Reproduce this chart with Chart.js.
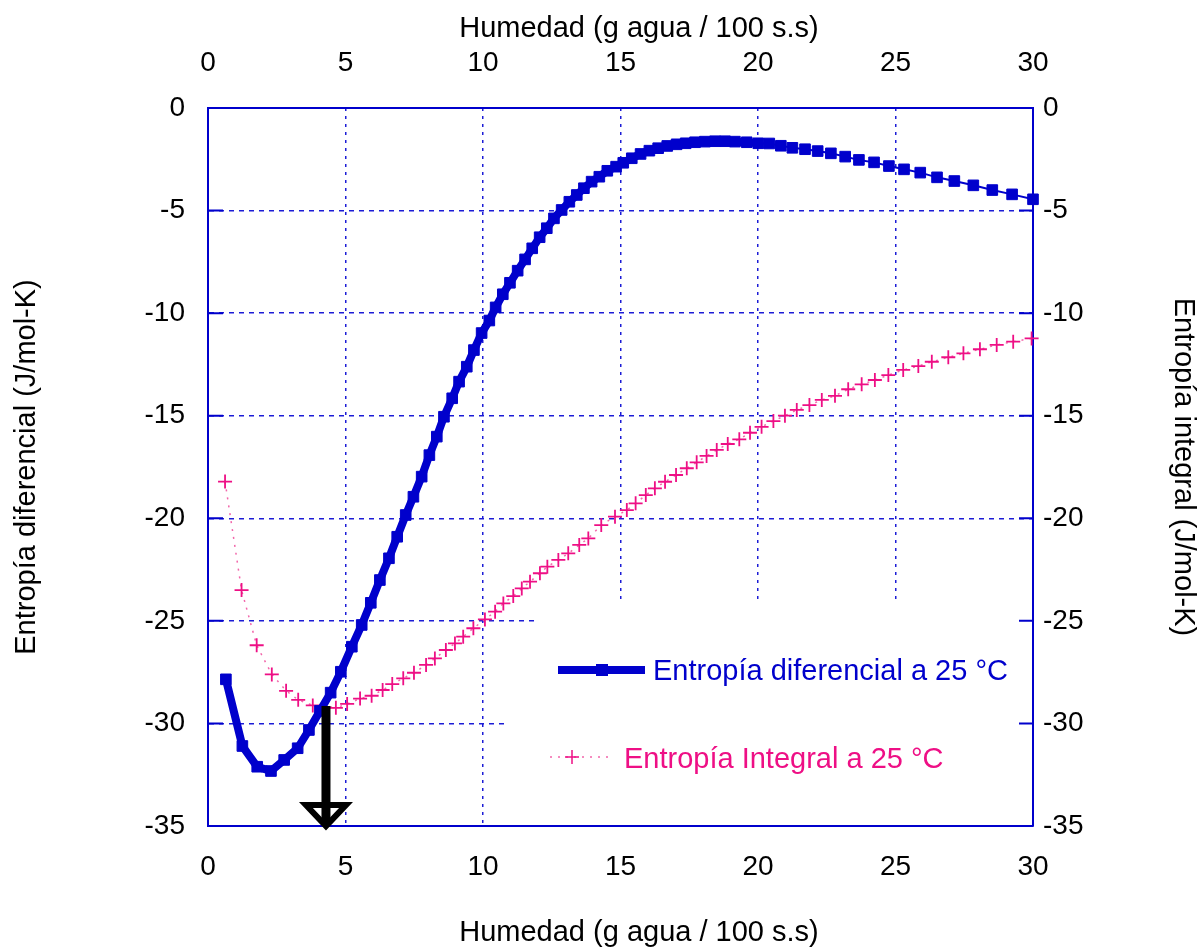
<!DOCTYPE html>
<html lang="es">
<head>
<meta charset="utf-8">
<title>Entropía diferencial e integral</title>
<script src="https://cdn.jsdelivr.net/npm/chart.js@4.4.1/dist/chart.umd.min.js"></script>
<style>
  html, body { margin: 0; padding: 0; background: #fff; }
  #contenedor { width: 1202px; height: 948px; position: relative; }
</style>
</head>
<body>
<div id="contenedor"><canvas id="grafico"></canvas></div>
<script>
// Entropía diferencial (eje izquierdo)
const diffHumedad = [0.65, 1.25, 1.79, 2.29, 2.77, 3.26, 3.67, 4.07, 4.46, 4.83, 5.23, 5.59, 5.92, 6.25, 6.58, 6.88, 7.19, 7.47, 7.77, 8.05, 8.32, 8.58, 8.88, 9.13, 9.41, 9.67, 9.95, 10.23, 10.46, 10.72, 10.98, 11.26, 11.53, 11.79, 12.06, 12.32, 12.58, 12.86, 13.14, 13.41, 13.67, 13.95, 14.23, 14.52, 14.84, 15.10, 15.41, 15.73, 16.05, 16.37, 16.70, 17.04, 17.37, 17.71, 18.07, 18.44, 18.80, 19.16, 19.59, 20.01, 20.41, 20.83, 21.25, 21.71, 22.17, 22.65, 23.17, 23.67, 24.22, 24.76, 25.31, 25.90, 26.51, 27.14, 27.83, 28.52, 29.24, 30.0];
const diffEntropia = [-27.85, -31.10, -32.11, -32.32, -31.78, -31.21, -30.32, -29.39, -28.50, -27.48, -26.26, -25.20, -24.12, -23.01, -21.95, -20.90, -19.84, -18.95, -17.97, -16.92, -16.02, -15.05, -14.15, -13.34, -12.61, -11.80, -10.97, -10.36, -9.72, -9.08, -8.52, -7.93, -7.38, -6.84, -6.30, -5.86, -5.38, -4.97, -4.57, -4.24, -3.91, -3.59, -3.35, -3.06, -2.86, -2.67, -2.45, -2.24, -2.08, -1.96, -1.85, -1.77, -1.72, -1.67, -1.64, -1.62, -1.62, -1.64, -1.67, -1.72, -1.73, -1.84, -1.94, -2.01, -2.10, -2.21, -2.37, -2.53, -2.65, -2.83, -2.99, -3.15, -3.38, -3.56, -3.77, -4.00, -4.21, -4.45];

// Entropía integral (eje derecho, misma escala)
const intHumedad = [0.62, 1.22, 1.77, 2.32, 2.84, 3.28, 3.81, 4.25, 4.65, 5.06, 5.53, 5.95, 6.35, 6.70, 7.10, 7.49, 7.93, 8.25, 8.65, 8.98, 9.28, 9.65, 10.07, 10.44, 10.74, 11.10, 11.41, 11.71, 12.07, 12.34, 12.74, 13.10, 13.50, 13.83, 14.30, 14.80, 15.23, 15.55, 15.92, 16.25, 16.62, 17.02, 17.41, 17.77, 18.13, 18.50, 18.90, 19.32, 19.71, 20.13, 20.56, 20.98, 21.41, 21.87, 22.32, 22.80, 23.28, 23.77, 24.25, 24.74, 25.28, 25.83, 26.32, 26.92, 27.47, 28.07, 28.68, 29.28, 29.95];
const intEntropia = [-18.21, -23.5, -26.19, -27.61, -28.41, -28.85, -29.12, -29.22, -29.24, -29.05, -28.79, -28.65, -28.37, -28.08, -27.80, -27.53, -27.15, -26.83, -26.42, -26.10, -25.77, -25.36, -24.93, -24.55, -24.15, -23.79, -23.42, -23.09, -22.68, -22.36, -22.03, -21.71, -21.30, -20.98, -20.33, -19.92, -19.60, -19.27, -18.87, -18.54, -18.22, -17.89, -17.56, -17.27, -16.96, -16.67, -16.38, -16.15, -15.83, -15.54, -15.26, -15.00, -14.72, -14.48, -14.23, -14.03, -13.71, -13.47, -13.26, -13.02, -12.77, -12.58, -12.37, -12.15, -11.96, -11.76, -11.55, -11.39, -11.23];

const ticksHumedad = [0, 5, 10, 15, 20, 25, 30];
const ticksEntropia = [0, -5, -10, -15, -20, -25, -30, -35];

const tituloHumedad = "Humedad (g agua / 100 s.s)";

// flecha que marca la humedad de mínima entropía integral
const flechaHumedad = 4.29;
const flechaDesde = -29.15;
const flechaHasta = -35.1;

const FUENTE = "'Liberation Sans', Arial, sans-serif";
const AZUL = "#0000cc";
const REJILLA = "#1c1cd6";
const ROSA = "#ee0f85";
const ROSA_LINEA = "#f266aa";

// ======================
// HELPERS
// ======================

function puntos(xs, ys) {
  return xs.map((x, i) => ({ x, y: ys[i] }));
}

function ponerTicks(valores) {
  return s => { s.ticks = valores.map(v => ({ value: v })); };
}

function fijarAncho(px) {
  return s => { s.width = px; };
}

function fijarAlto(px) {
  return s => { s.height = px; };
}

function ejeX(posicion, alto, padTicks, conRejilla) {
  return {
    type: "linear",
    position: posicion,
    min: 0,
    max: 30,
    afterBuildTicks: ponerTicks(ticksHumedad),
    afterFit: fijarAlto(alto),
    ticks: { color: "#000", font: { family: FUENTE, size: 28 }, padding: padTicks, maxRotation: 0, autoSkip: false },
    grid: { display: conRejilla, color: REJILLA, lineWidth: 1.5, drawTicks: false },
    border: { display: true, color: AZUL, width: 2, dash: [3, 5] },
    // el título horizontal se dibuja aparte (va algo desplazado a la derecha)
    title: { display: false }
  };
}

function ejeY(posicion, ancho, padTicks, padTitulo, titulo, conRejilla) {
  return {
    type: "linear",
    position: posicion,
    min: -35,
    max: 0,
    afterBuildTicks: ponerTicks(ticksEntropia),
    afterFit: fijarAncho(ancho),
    ticks: { color: "#000", font: { family: FUENTE, size: 28 }, padding: padTicks },
    grid: { display: conRejilla, color: REJILLA, lineWidth: 1.5, drawTicks: false },
    border: { display: true, color: AZUL, width: 2, dash: [5, 5] },
    title: { display: true, text: titulo, color: "#000", font: { family: FUENTE, size: 29 }, padding: padTitulo }
  };
}

// ======================
// PLUGINS
// ======================

const titulosHumedad = {
  id: "titulosHumedad",
  afterDraw(chart) {
    const ctx = chart.ctx;
    ctx.save();
    ctx.font = "29px " + FUENTE;
    ctx.fillStyle = "#000";
    ctx.textAlign = "center";
    ctx.textBaseline = "middle";
    ctx.fillText(tituloHumedad, 639, 29);
    ctx.fillText(tituloHumedad, 639, 933);
    ctx.restore();
  }
};

// fondo blanco del recuadro de la leyenda (tapa la rejilla)
const fondoLeyenda = {
  id: "fondoLeyenda",
  beforeDatasetsDraw(chart) {
    const { ctx, scales: { x, y } } = chart;
    ctx.save();
    ctx.fillStyle = "#fff";
    const r1x = x.getPixelForValue(12.0), r2x = x.getPixelForValue(10.8);
    const top = y.getPixelForValue(-24.1), mid = y.getPixelForValue(-27.5);
    const der = x.getPixelForValue(30) - 1, abajo = y.getPixelForValue(-35) - 1;
    ctx.fillRect(r1x, top, der - r1x, mid - top);
    ctx.fillRect(r2x, mid, der - r2x, abajo - mid);
    ctx.restore();
  }
};

// marcas cortas hacia dentro en ambos ejes verticales
const marcasInternas = {
  id: "marcasInternas",
  beforeDatasetsDraw(chart) {
    const { ctx, chartArea: a, scales: { y } } = chart;
    ctx.save();
    ctx.strokeStyle = AZUL;
    ctx.lineWidth = 2;
    ticksEntropia.forEach(v => {
      const py = y.getPixelForValue(v);
      ctx.beginPath();
      ctx.moveTo(a.left, py); ctx.lineTo(a.left + 15, py);
      ctx.moveTo(a.right - 14, py); ctx.lineTo(a.right, py);
      ctx.stroke();
    });
    ctx.restore();
  }
};

const flecha = {
  id: "flecha",
  afterDatasetsDraw(chart) {
    const { ctx, scales: { x, y } } = chart;
    const px = x.getPixelForValue(flechaHumedad);
    const y0 = y.getPixelForValue(flechaDesde);
    const y1 = y.getPixelForValue(flechaHasta);
    ctx.save();
    ctx.strokeStyle = "#000";
    ctx.lineWidth = 9;
    ctx.beginPath();
    ctx.moveTo(px, y0);
    ctx.lineTo(px, y1 - 4);
    ctx.stroke();
    ctx.lineWidth = 6;
    ctx.lineJoin = "miter";
    ctx.beginPath();
    ctx.moveTo(px - 20, y1 - 23);
    ctx.lineTo(px + 20, y1 - 23);
    ctx.lineTo(px, y1 - 2);
    ctx.closePath();
    ctx.stroke();
    ctx.restore();
  }
};

const leyenda = {
  id: "leyenda",
  afterDatasetsDraw(chart) {
    const ctx = chart.ctx;
    const [dDif, dInt] = chart.data.datasets;
    ctx.save();
    ctx.font = "29px " + FUENTE;
    ctx.textBaseline = "middle";

    // diferencial
    ctx.strokeStyle = AZUL;
    ctx.lineWidth = 8;
    ctx.beginPath();
    ctx.moveTo(558, 670);
    ctx.lineTo(645, 670);
    ctx.stroke();
    ctx.fillStyle = AZUL;
    ctx.fillRect(596, 664, 12, 12);
    ctx.fillText(dDif.label, 653, 672);

    // integral
    ctx.strokeStyle = ROSA_LINEA;
    ctx.lineWidth = 1.5;
    ctx.setLineDash([2, 6]);
    ctx.beginPath();
    ctx.moveTo(550, 757);
    ctx.lineTo(614, 757);
    ctx.stroke();
    ctx.setLineDash([]);
    ctx.strokeStyle = ROSA;
    ctx.beginPath();
    ctx.moveTo(565, 757); ctx.lineTo(579, 757);
    ctx.moveTo(572, 750); ctx.lineTo(572, 764);
    ctx.stroke();
    ctx.fillStyle = ROSA;
    ctx.fillText(dInt.label, 624, 760);
    ctx.restore();
  }
};

// ======================
// GRÁFICO
// ======================

new Chart(document.getElementById("grafico"), {
  type: "line",
  data: {
    datasets: [
      {
        label: "Entropía diferencial a 25 °C",
        data: puntos(diffHumedad, diffEntropia),
        borderColor: AZUL,
        backgroundColor: AZUL,
        borderWidth: 8,
        segment: { borderWidth: c => (c.p0.parsed.x >= 20 ? 2 : 8) },
        pointStyle: "rect",
        pointRadius: 7.5,
        pointBorderWidth: 1,
        pointBackgroundColor: AZUL,
        pointBorderColor: AZUL,
        tension: 0,
        clip: false
      },
      {
        label: "Entropía Integral a 25 °C",
        data: puntos(intHumedad, intEntropia),
        borderColor: ROSA_LINEA,
        borderWidth: 1.5,
        borderDash: [2, 6],
        pointStyle: "cross",
        pointRadius: 7,
        pointBorderWidth: 1.8,
        pointBorderColor: ROSA,
        tension: 0,
        clip: false
      }
    ]
  },
  options: {
    responsive: true,
    maintainAspectRatio: false,
    animation: false,
    layout: { padding: 0 },
    scales: {
      x: ejeX("bottom", 122, 24, true),
      x2: ejeX("top", 108, 28, false),
      y: ejeY("left", 208, 23, { top: 10, bottom: 0 }, "Entropía diferencial (J/mol-K)", true),
      y2: ejeY("right", 169, 10, { top: 2, bottom: 0 }, "Entropía integral (J/mol-K)", false)
    },
    plugins: {
      legend: { display: false },
      tooltip: { enabled: false }
    }
  },
  plugins: [fondoLeyenda, marcasInternas, flecha, leyenda, titulosHumedad]
});
</script>
</body>
</html>
